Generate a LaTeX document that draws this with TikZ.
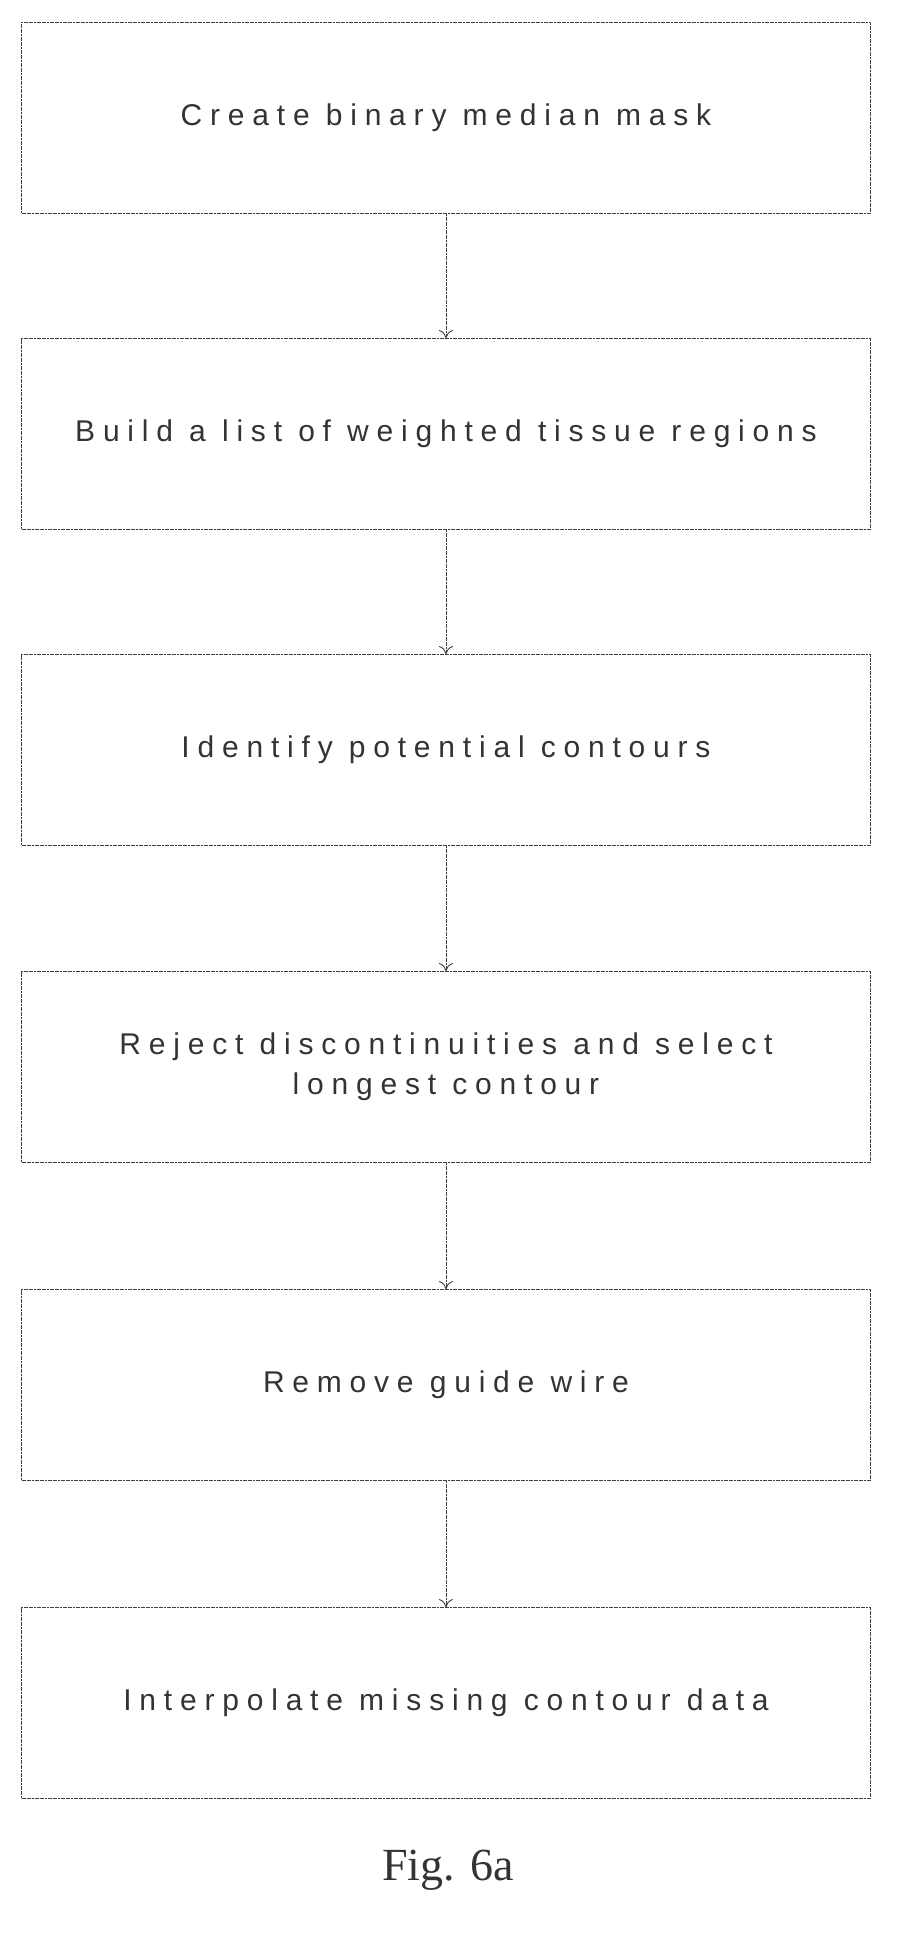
\documentclass[tikz,border=0pt]{standalone}
\usepackage{fontspec}
\setmainfont{Liberation Serif}
\setsansfont{Liberation Sans}[LetterSpace=26]
\usetikzlibrary{positioning,arrows.meta}
\begin{document}
\begin{tikzpicture}[x=1pt,y=-1pt,
	stage/.style={draw=black!75, line width=0.9pt, dash pattern=on 2pt off 0.6pt,
		minimum width=849pt, minimum height=191pt, align=center,
		font=\sffamily\fontsize{30}{40}\selectfont, text=black!80},
	flow/.style={draw=black!75, line width=0.9pt, dash pattern=on 2pt off 0.6pt, -{To[length=8pt,width=14pt]}}]
	\useasboundingbox (0,0) rectangle (900,1937);
	%Schritte
	\node[stage] (mask)   at (446,118)  {Create binary median mask};
	\node[stage] (list)   at (446,434)  {Build a list of weighted tissue regions};
	\node[stage] (ident)  at (446,750)  {Identify potential contours};
	\node[stage] (reject) at (446,1067) {Reject discontinuities and select\\longest contour};
	\node[stage] (wire)   at (446,1385) {Remove guide wire};
	\node[stage] (interp) at (446,1703) {Interpolate missing contour data};
	%Pfeile
	\draw[flow] (mask) -- (list);
	\draw[flow] (list) -- (ident);
	\draw[flow] (ident) -- (reject);
	\draw[flow] (reject) -- (wire);
	\draw[flow] (wire) -- (interp);
	\node[font=\fontsize{46}{52}\selectfont, text=black!80] (fig) at (448,1870) {Fig. 6a};
\end{tikzpicture}
\end{document}
